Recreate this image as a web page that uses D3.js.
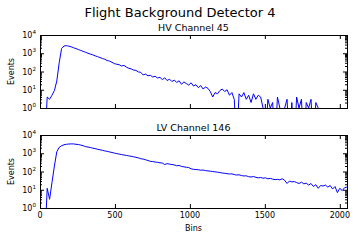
<!DOCTYPE html>
<html>
<head>
<meta charset="utf-8">
<script src="https://cdn.jsdelivr.net/npm/d3@7"></script>
<style>
    body { margin: 0; background: #fff; }
    text { font-family: "DejaVu Sans", sans-serif; fill: #000; }
</style>
</head>
<body>
<div id="chart"></div>
<script>
// counts every 16 bins, 0..2048
const binStep = 16;

const hvCounts = [
    2, 0, 0, 4, 3, 5, 9, 30, 300, 1800, 2500, 2600, 2450, 2250, 2000, 1800, 1600, 1420, 1260, 1130,
    1000, 900, 820, 720, 650, 580, 520, 470, 400, 370, 320, 270, 250, 235, 200, 215, 175, 150, 140, 120,
    115, 95, 90, 65, 72, 58, 62, 50, 55, 44, 48, 36, 45, 32, 38, 28, 34, 25, 31, 20,
    27, 22, 18, 24, 16, 19, 13, 17, 11, 14, 12, 8, 4, 7, 6, 9, 11, 8, 10, 5,
    7, 3, 0, 6, 4, 7, 3, 5, 2, 6, 3, 5, 4, 1, 0, 3, 1, 2, 0, 4,
    1, 0, 1, 3, 0, 2, 0, 4, 1, 3, 0, 2, 1, 3, 0, 2, 1, 0, 0, 0,
    0, 0, 0, 0, 0, 0, 0, 0, 0
];

const lvCounts = [
    4, 0, 0, 12, 3, 25, 200, 1200, 2100, 2600, 2900, 3100, 3200, 3250, 3250, 3100, 3000, 2800, 2600, 2300,
    2200, 2050, 1900, 1800, 1650, 1550, 1450, 1350, 1270, 1180, 1100, 1020, 960, 900, 850, 800, 760, 720, 680, 640,
    600, 560, 500, 480, 440, 400, 360, 350, 330, 320, 300, 290, 240, 270, 255, 240, 230, 205, 215, 190,
    180, 170, 165, 140, 132, 128, 125, 118, 120, 112, 108, 104, 100, 96, 92, 88, 82, 80, 76, 73,
    74, 68, 64, 66, 60, 57, 58, 52, 50, 53, 48, 45, 47, 43, 45, 40, 42, 38, 36, 37,
    35, 40, 33, 22, 30, 27, 28, 25, 22, 26, 21, 23, 18, 22, 15, 19, 12, 17, 16, 18,
    14, 17, 11, 15, 7, 12, 9, 13, 14
];

const xTicks = [0, 500, 1000, 1500, 2000];
const yTicks = [1, 10, 100, 1000, 10000];
const yTickExp = ["0", "1", "2", "3", "4"];

const width = 360, height = 240;
const left = 40, right = 347;

const svg = d3.select("#chart").append("svg")
    .attr("width", width)
    .attr("height", height);

svg.append("text")
    .attr("x", 180)
    .attr("y", 17)
    .attr("text-anchor", "middle")
    .style("font-size", "13px")
    .text("Flight Background Detector 4");

const x = d3.scaleLinear().domain([0, 2048]).range([left, right]);

// minor log ticks 2..9 per decade
const minorTicks = [];
for (let k = 0; k < 4; k++) {
    for (let m = 2; m < 10; m++) minorTicks.push(m * Math.pow(10, k));
}

function drawPanel(counts, title, top, bottom, showXLabels, id) {
    const y = d3.scaleLog().domain([1, 10000]).range([bottom, top]);
    const g = svg.append("g");

    g.append("clipPath").attr("id", id)
        .append("rect")
        .attr("x", left).attr("y", top)
        .attr("width", right - left).attr("height", bottom - top);

    const line = d3.line()
        .x((d, i) => x(i * binStep))
        .y(d => y(d > 0 ? d : 0.01));

    g.append("path")
        .datum(counts)
        .attr("clip-path", `url(#${id})`)
        .attr("fill", "none")
        .attr("stroke", "#0000ff")
        .attr("stroke-width", 1)
        .attr("d", line);

    // ticks pointing inward on all four sides
    const axes = [
        d3.axisBottom(x).tickValues(xTicks).tickSize(-4),
        d3.axisTop(x).tickValues(xTicks).tickSize(-4),
        d3.axisLeft(y).tickValues(yTicks).tickSize(-4),
        d3.axisLeft(y).tickValues(minorTicks).tickSize(-2),
        d3.axisRight(y).tickValues(yTicks).tickSize(-4),
        d3.axisRight(y).tickValues(minorTicks).tickSize(-2)
    ];
    const pos = [
        `translate(0,${bottom})`, `translate(0,${top})`,
        `translate(${left},0)`, `translate(${left},0)`,
        `translate(${right},0)`, `translate(${right},0)`
    ];
    axes.forEach((a, i) => {
        const ag = g.append("g")
            .attr("transform", pos[i])
            .call(a.tickSizeOuter(0).tickFormat(""));
        ag.select(".domain").remove();
        ag.selectAll("line").attr("stroke", "#000");
    });

    g.append("rect")
        .attr("x", left + 0.5).attr("y", top + 0.5)
        .attr("width", right - left).attr("height", bottom - top)
        .attr("fill", "none")
        .attr("stroke", "#000")
        .attr("stroke-width", 1);

    // y tick labels as 10^n
    yTicks.forEach((v, i) => {
        const t = g.append("text")
            .attr("x", left - 4)
            .attr("y", y(v) + 3)
            .attr("text-anchor", "end")
            .style("font-size", "8px");
        t.append("tspan").text("10");
        t.append("tspan").attr("dy", -4).style("font-size", "5.6px").text(yTickExp[i]);
    });

    if (showXLabels) {
        xTicks.forEach(v => {
            g.append("text")
                .attr("x", x(v))
                .attr("y", bottom + 10)
                .attr("text-anchor", "middle")
                .style("font-size", "8px")
                .text(v);
        });
        g.append("text")
            .attr("x", (left + right) / 2)
            .attr("y", bottom + 23)
            .attr("text-anchor", "middle")
            .style("font-size", "8px")
            .text("Bins");
    }

    g.append("text")
        .attr("transform", `translate(14,${(top + bottom) / 2}) rotate(-90)`)
        .attr("text-anchor", "middle")
        .style("font-size", "8px")
        .text("Events");

    g.append("text")
        .attr("x", (left + right) / 2)
        .attr("y", top - 4)
        .attr("text-anchor", "middle")
        .style("font-size", "9.5px")
        .text(title);
}

drawPanel(hvCounts, "HV Channel 45", 35, 108, false, "clipHV");
drawPanel(lvCounts, "LV Channel 146", 135, 208, true, "clipLV");
</script>
</body>
</html>
